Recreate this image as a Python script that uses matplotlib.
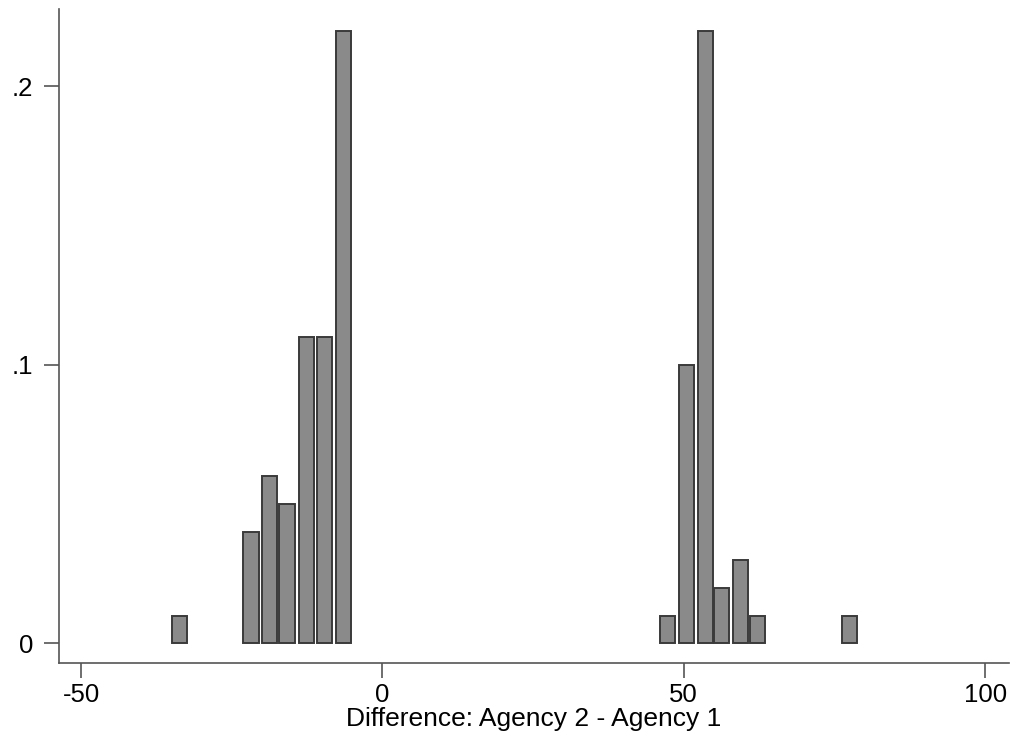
import matplotlib
matplotlib.use("Agg")
import matplotlib.pyplot as plt
from matplotlib.ticker import FuncFormatter

# Density of the agency difference, one bar per observed value
diff_values = [-33.7, -21.8, -18.7, -15.8, -12.6, -9.6, -6.5,
               47.3, 50.5, 53.6, 56.3, 59.4, 62.2, 77.5]
density = [0.01, 0.04, 0.06, 0.05, 0.11, 0.11, 0.22,
           0.01, 0.10, 0.22, 0.02, 0.03, 0.01, 0.01]

x_ticks = [-50, 0, 50, 100]
y_ticks = [0, 0.1, 0.2]
x_label = "Difference: Agency 2 - Agency 1"

plt.rcParams["font.family"] = ["Liberation Sans", "DejaVu Sans"]
plt.rcParams["axes.unicode_minus"] = False

fig = plt.figure(figsize=(10.23, 7.38), dpi=100)
ax = fig.add_axes([0.058, 0.101, 0.928, 0.8865])

ax.bar(diff_values, density, width=2.55, color="#8a8a8a",
       edgecolor="#3a3a3a", linewidth=1.4, align="center")

ax.set_xlim(-53.6, 103.9)
ax.set_ylim(-0.0072, 0.2277)
ax.set_xticks(x_ticks)
ax.set_yticks(y_ticks)

def fmt_y(v, pos):
    if v == 0:
        return "0"
    return ("%g" % v).lstrip("0")

ax.yaxis.set_major_formatter(FuncFormatter(fmt_y))

for side in ("top", "right"):
    ax.spines[side].set_visible(False)
for side in ("left", "bottom"):
    ax.spines[side].set_color("#555555")
    ax.spines[side].set_linewidth(1.2)

ax.tick_params(axis="both", direction="out", length=11, width=1.2,
               color="#555555", labelsize=18.5, labelcolor="black")
ax.tick_params(axis="y", pad=8)
ax.tick_params(axis="x", pad=3)

ax.set_xlabel(x_label, fontsize=19, labelpad=0)

fig.savefig("out.png", dpi=100)
